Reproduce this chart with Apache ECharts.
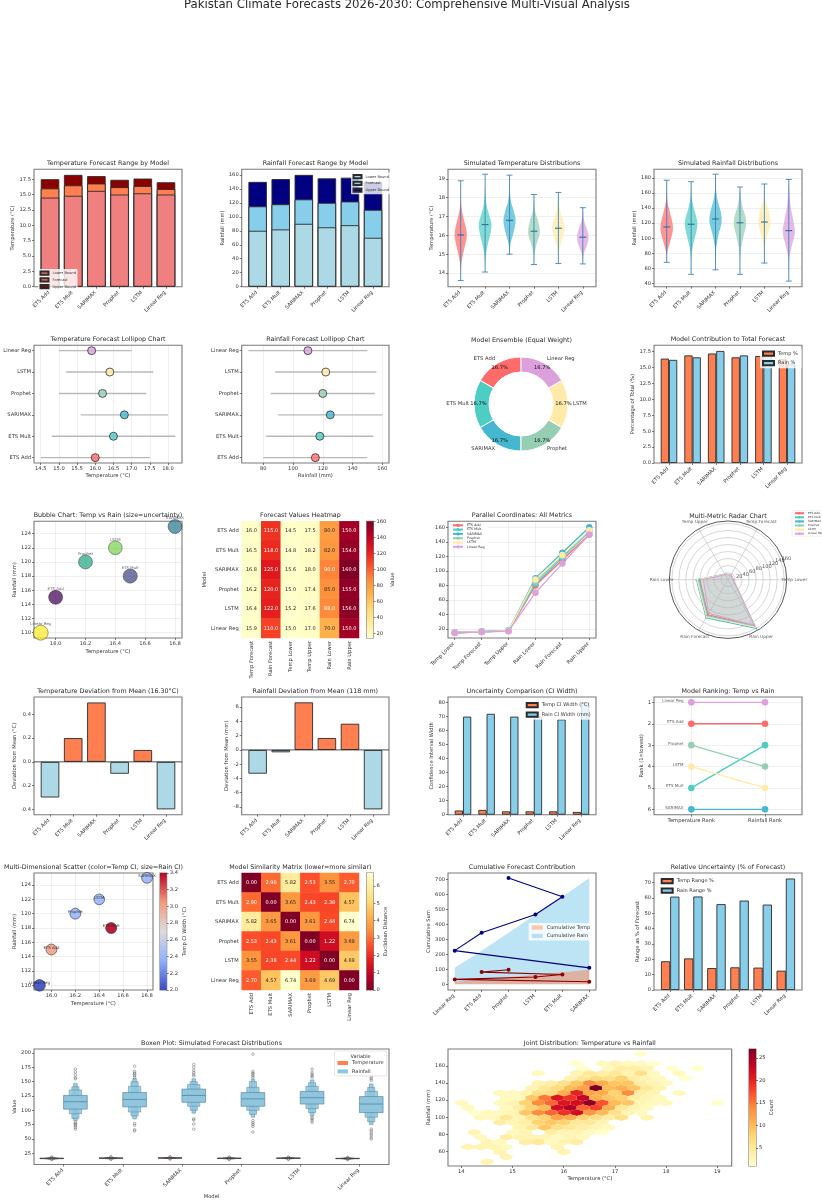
<!DOCTYPE html>
<html><head><meta charset="utf-8">
<style>html,body{margin:0;padding:0;background:#fff}#c{width:822px;height:1200px}</style>
<script src="https://cdn.jsdelivr.net/npm/echarts@6/dist/echarts.min.js"></script></head>
<body><div id="c"></div>
<script>
// ---------- data ----------
const models=['ETS Add','ETS Mult','SARIMAX','Prophet','LSTM','Linear Reg'];
const modelColors=['#FF6B6B','#4ECDC4','#45B7D1','#96CEB4','#FFEAA7','#DDA0DD'];
const tempForecast=[16.0,16.5,16.8,16.2,16.4,15.9];
const rainForecast=[115,118,125,120,122,110];
const tempLower=[14.5,14.8,15.6,15.0,15.2,15.0];
const tempUpper=[17.5,18.2,18.0,17.4,17.6,17.0];
const rainLower=[80,82,90,85,88,70];
const rainUpper=[150,154,160,155,156,150];
const metrics=['Temp Lower','Temp Forecast','Temp Upper','Rain Lower','Rain Forecast','Rain Upper'];
const heatCols=['Temp Forecast','Rain Forecast','Temp Lower','Temp Upper','Rain Lower','Rain Upper'];
const tempMin=[13.6,14.05,15.0,14.45,14.5,14.48];
const tempMax=[18.9,19.25,19.2,18.17,18.28,17.47];
const tempMean=[16.02,16.57,16.8,16.22,16.38,15.9];
const rainMin=[68,52,58,52,67,43];
const rainMax=[177,175,185,168,172,178];
const rainMean=[115,118.5,125.5,120.5,121.5,110];
const tempViolin=[
 [[13.6,0],[14.3,.05],[14.8,.25],[15.3,.6],[15.8,.95],[16.1,1],[16.5,.8],[17,.4],[17.5,.12],[18.2,.02],[18.9,0]],
 [[14.05,0],[14.8,.08],[15.4,.35],[16,.8],[16.6,1.05],[17.1,.65],[17.6,.25],[18.3,.05],[19.25,0]],
 [[15,0],[15.6,.2],[16.2,.7],[16.8,1],[17.3,.7],[17.8,.25],[18.4,.05],[19.2,0]],
 [[14.45,0],[15,.1],[15.5,.4],[16,.9],[16.3,.95],[16.8,.65],[17.3,.2],[18.17,0]],
 [[14.5,0],[15.2,.12],[15.7,.5],[16.3,1],[16.8,.8],[17.3,.3],[18.28,0]],
 [[14.48,0],[15,.15],[15.5,.7],[15.9,.95],[16.3,.7],[16.8,.2],[17.47,0]]];
const rainViolin=[
 [[68,0],[82,.12],[95,.55],[110,1],[120,.95],[135,.5],[150,.12],[177,0]],
 [[52,0],[80,.1],[95,.45],[115,1],[125,.95],[140,.45],[155,.1],[175,0]],
 [[58,0],[85,.08],[105,.5],[122,1],[135,.85],[150,.35],[165,.08],[185,0]],
 [[52,0],[80,.08],[100,.5],[118,1],[130,.85],[145,.3],[168,0]],
 [[67,0],[90,.12],[105,.55],[120,1],[135,.75],[150,.2],[172,0]],
 [[43,0],[75,.12],[90,.5],[108,1],[125,.7],[145,.25],[178,0]]];
const tempPct=[16.4,16.9,17.2,16.6,16.8,16.3];
const rainPct=[16.2,16.6,17.6,16.9,17.2,15.5];
const ensembleWeights=[1,1,1,1,1,1];
const viridisByModel=['#440154','#414487','#2a788e','#22a884','#7ad151','#fde725'];
const tempDev=[-0.3,0.2,0.5,-0.1,0.1,-0.4];
const rainDev=[-3.33,-0.33,6.67,1.67,3.67,-8.33];
const tempCI=[3.0,3.4,2.4,2.4,2.4,2.0];
const rainCI=[70,72,70,70,68,80];
const tempRank=[2,5,6,3,4,1];
const rainRank=[2,3,6,4,5,1];
const rankLabels=['Temperature Rank','Rainfall Rank'];
const similarity=[
 [0,2.90,5.82,2.53,3.55,2.70],
 [2.90,0,3.65,2.43,2.38,4.57],
 [5.82,3.65,0,3.61,2.44,6.74],
 [2.53,2.43,3.61,0,1.22,3.69],
 [3.55,2.38,2.44,1.22,0,4.69],
 [2.70,4.57,6.74,3.69,4.69,0]];
const cumOrder=['Linear Reg','ETS Add','Prophet','LSTM','ETS Mult','SARIMAX'];
const cumTempFill=[15.9,31.9,48.1,64.5,81,97.8];
const cumRainFill=[110,225,345,467,585,710];
const cumTempLine=[[5,16.8],[0,32.7],[3,49.1],[4,65.6],[1,81.6],[2,97.8]];
const cumRainLine=[[5,110],[0,225],[1,345],[3,467],[4,585],[2,710]];
const tempRangePct=[18.75,20.6,14.3,14.8,14.6,12.6];
const rainRangePct=[60.9,61,56,58.3,55.7,72.7];
const rainBoxen=[
 [[102,126],[94,135.5],[86,141],[82,147]],
 [[106,131],[97,142],[90,150],[85,155]],
 [[114,137],[107,145],[100,150],[95,155]],
 [[107,131],[100,140],[93,150],[88,154]],
 [[111,133],[103,142],[96,148],[90,153]],
 [[96,124],[88,133],[80,140],[75,146]]];
const rainMedian=[115,119,126,120,122,111];
const rainOutliers=[
 [67,70,73,75,77,79,155,157,162,167,172],
 [64,66,74,77,157,160,163,165,168,177],
 [67,76,83,85,160,163,166,170,175,180],
 [62,72,75,78,82,157,160,163,165,168,198],
 [79,82,85,87,158,160,163,166,172],
 [50,53,57,60,64,67,152,155,158]];
const tempBoxen=[
 [[15.6,16.5],[15.2,16.9],[14.9,17.2]],
 [[16.0,16.9],[15.7,17.3],[15.3,17.6]],
 [[16.4,17.2],[16.1,17.5],[15.8,17.8]],
 [[15.8,16.6],[15.5,17.0],[15.2,17.3]],
 [[16.0,16.8],[15.7,17.1],[15.4,17.4]],
 [[15.5,16.2],[15.2,16.6],[14.9,16.9]]];
const tempOutliers=[
 [14.2,14.6,17.6,18.4],[14.6,15.0,18.0,19.0],[15.2,15.5,18.2,18.8],
 [14.4,14.8,17.7,18.1],[14.6,15.0,17.8,18.2],[14.4,14.6,17.1,17.4]];
// hexbin rows: [rainfall, first temperature of the row, counts every 0.25 degC]
const hexRows=[
 [174.0,14.003,[0,0,0,0,0,0,0,0,0,0,0,0,0,0,1]],
 [162.6,14.003,[0,0,0,0,0,0,0,0,0,1,0,2,3,2,2,1]],
 [156.9,14.127,[0,0,0,0,0,0,0,0,0,1,0,2,4,4,3,0,1,0,1]],
 [151.2,14.003,[0,0,0,0,0,0,2,0,0,3,5,4,5,3,6,2,0,2]],
 [145.4,14.127,[0,0,0,0,0,0,0,0,3,5,7,6,8,4,3,2,0,1]],
 [139.7,14.003,[0,0,0,0,0,0,3,4,6,9,14,11,9,9,4,3,2]],
 [134.0,14.127,[0,0,0,0,0,3,5,7,10,12,27,10,11,9,5,3]],
 [128.3,14.003,[0,0,0,2,2,3,6,7,11,20,12,11,8,14,4,3,0,2]],
 [122.6,14.127,[0,0,0,2,2,9,15,21,19,23,11,9,8,4,3,2]],
 [116.8,14.003,[2,0,0,2,3,8,14,16,21,22,26,17,10,9,3,2,2,0,0,0,1]],
 [111.1,14.127,[2,0,0,2,4,8,10,22,24,16,18,11,5,3,2]],
 [105.4,14.003,[0,1,2,2,3,9,14,16,19,22,13,10,6,3,2]],
 [99.7,14.127,[0,2,2,5,3,6,8,12,11,8,6,4,6,0,3]],
 [94.0,14.003,[0,0,0,4,3,4,8,9,8,5,5,3]],
 [88.2,14.127,[0,0,0,0,3,5,9,6,5,4,3,2]],
 [82.5,14.003,[0,3,0,0,2,3,0,4,3,3,2,1]],
 [76.8,14.127,[0,2,0,4,3,3,3,2,3,2]],
 [71.1,14.003,[0,0,3,2,0,4,5,2,3,4]],
 [65.4,14.127,[3,3,3,2,0,0,0,3]],
 [59.6,14.003,[0,0,0,3,0,0,0,0,3]],
 [53.9,14.127,[0,0,0,3]],
 [48.2,14.003,[0,0,3]]];
// tick values
const ticksTempRange=[0,2.5,5,7.5,10,12.5,15,17.5];
const ticksRainRange=[0,20,40,60,80,100,120,140,160];
const ticksTempViolin=[14,15,16,17,18,19];
const ticksRainViolin=[40,60,80,100,120,140,160,180];
const ticksLolliTemp=[14.5,15,15.5,16,16.5,17,17.5,18];
const ticksLolliRain=[80,100,120,140,160];
const ticksIndex=[0,1,2,3,4,5];
const ticksBubbleX=[16,16.2,16.4,16.6,16.8];
const ticksBubbleY=[110,112,114,116,118,120,122,124];
const ticksParallel=[20,40,60,80,100,120,140,160];
const ticksDevT=[-0.4,-0.2,0,0.2,0.4];
const ticksDevR=[-8,-6,-4,-2,0,2,4,6];
const ticksCI=[0,10,20,30,40,50,60,70,80];
const ticksRank=[1,2,3,4,5,6];
const ticksCum=[0,100,200,300,400,500,600,700];
const ticksRel=[0,10,20,30,40,50,60,70];
const ticksBoxen=[25,50,75,100,125,150,175,200];
const ticksJointX=[14,15,16,17,18,19];
const ticksJointY=[60,80,100,120,140,160];
const ticksCbHeat=[20,40,60,80,100,120,140,160];
const ticksCbCI=[2,2.2,2.4,2.6,2.8,3,3.2,3.4];
const ticksCbSim=[0,1,2,3,4,5,6];
const ticksCbHex=[5,10,15,20,25];
const radialRings=[20,40,60,80,100,120,140,160];

// ---------- helpers ----------
const FONT='DejaVu Sans',TXT='#333',SPINE='#7a7a7a',EDGE='#2b2b2b',AF=5.2,TF=6.35,LF=5;
const CORAL='#FF7F50',SKY='#87CEEB',LBLUE='#ADD8E6';
const YLORRD=['#ffffcc','#ffeda0','#fed976','#feb24c','#fd8d3c','#fc4e2a','#e31a1c','#bd0026','#800026'];
const COOLWARM=['#3b4cc0','#8db0fe','#dddcdc','#f49a7b','#b40426'];
const opt={animation:false,backgroundColor:'#fff',textStyle:{fontFamily:FONT},title:[],legend:[],grid:[],xAxis:[],yAxis:[],series:[],visualMap:[]};
const f0=v=>String(v), f1=v=>Number(v).toFixed(1), fName=v=>models[v];
const R=(l,r,t,b)=>({l,r,t,b});
const colX=[[34,182],[241.7,389],[448,596],[654,802]];
const rowY=[[169.3,286.7],[345.3,463],[521.3,638],[697,814.7],[873,990],[1049,1166]];
const cell=(row,col)=>R(colX[col][0],colX[col][1],rowY[row][0],rowY[row][1]);
function addTitle(text,x,y,size){opt.title.push({text,left:x,top:y,padding:0,textAlign:'center',textVerticalAlign:'middle',textStyle:{fontFamily:FONT,fontSize:size||TF,fontWeight:'normal',color:'#2a2a2a'}});}
function valAxis(g,s,isX){
 return {type:'value',gridIndex:g,min:s.min,max:s.max,inverse:!!s.inverse,position:s.pos||(isX?'bottom':'left'),
  axisLine:{show:false,onZero:false},
  axisTick:{show:s.hideTick?false:true,length:2,customValues:s.ticks,lineStyle:{color:'#444',width:.7}},
  axisLabel:{show:!s.noLabel,customValues:s.ticks,formatter:s.fmt||f0,fontSize:s.font||AF,fontFamily:FONT,color:TXT,rotate:s.rotate||0,margin:s.rotate?4:3,padding:s.rotate?[0,1.5,0,0]:0},
  splitLine:{show:!!s.grid,lineStyle:{color:'rgba(0,0,0,0.09)',width:.7}},
  name:s.name||'',nameLocation:'middle',nameGap:s.gap||12,nameRotate:s.nameRotate,
  nameTextStyle:{fontSize:AF,color:TXT,fontFamily:FONT}};
}
function panel(r,title,xs,ys,tY){
 const g=opt.grid.length;
 opt.grid.push({left:r.l,top:r.t,width:r.r-r.l,height:r.b-r.t,show:true,backgroundColor:'#fff',borderColor:SPINE,borderWidth:1.1,containLabel:false});
 opt.xAxis.push(valAxis(g,xs,true));opt.yAxis.push(valAxis(g,ys,false));
 if(title)addTitle(title,(r.l+r.r)/2,tY||r.t-5.5);
 return {x:g,y:g,r,xs};
}
const modelX=(min,max)=>({min,max,ticks:ticksIndex,fmt:fName,rotate:45});
function pushS(a,s){s.xAxisIndex=a.x;s.yAxisIndex=a.y;opt.series.push(s);return opt.series.length-1;}
function bw(a,w){return (a.r.r-a.r.l)*w/(a.xs.max-a.xs.min);}
function bar(a,name,vals,color,w,gap){
 return pushS(a,{type:'bar',name,barWidth:bw(a,w),barGap:gap,data:vals.map((v,i)=>[i,v]),itemStyle:{color,borderColor:EDGE,borderWidth:.9}});
}
function addLegend(names,left,top,font,iw,ih,gap,o){
 opt.legend.push(Object.assign({data:names,left,top,orient:'vertical',selectedMode:false,itemWidth:iw,itemHeight:ih,itemGap:gap,padding:1.5,
  backgroundColor:'rgba(255,255,255,0.8)',borderRadius:1,icon:'rect',formatter:n=>n.split('#')[0],
  textStyle:{fontSize:font,color:TXT,fontFamily:FONT,padding:[0,0,0,-1]}},o||{}));
}
function colorbar(l,r,t,b,min,max,ticks,stops,name,gap,fmt){
 const a=panel(R(l,r,t,b),null,{min:0,max:1,ticks:[],noLabel:true,hideTick:true},{min,max,ticks,fmt,pos:'right',name,gap,nameRotate:90});
 pushS(a,{type:'custom',data:[[min,max]],clip:false,renderItem(p,api){
  const t=api.coord([0,api.value(1)]),bt=api.coord([1,api.value(0)]);
  const grad=stops.map((c,i)=>({offset:1-i/(stops.length-1),color:c})).reverse();
  return {type:'rect',shape:{x:t[0],y:t[1],width:bt[0]-t[0],height:bt[1]-t[1]},style:{fill:new echarts.graphic.LinearGradient(0,0,0,1,grad)}};
 }});
}
function heatmap(r,title,xLabels,yLabels,rows,colors,vmin,vmax,fmt,isWhite,yName){
 const g=opt.grid.length;
 opt.grid.push({left:r.l,top:r.t,width:r.r-r.l,height:r.b-r.t,show:false});
 const tick={alignWithLabel:true,length:2,lineStyle:{color:'#444',width:.7}};
 opt.xAxis.push({type:'category',gridIndex:g,data:xLabels,axisLine:{show:false},axisTick:tick,axisLabel:{rotate:90,fontSize:AF,color:TXT,fontFamily:FONT,margin:3,interval:0}});
 opt.yAxis.push({type:'category',gridIndex:g,data:yLabels,inverse:true,axisLine:{show:false},axisTick:tick,axisLabel:{fontSize:AF,color:TXT,fontFamily:FONT,margin:3,interval:0},
  name:yName||'',nameLocation:'middle',nameGap:33,nameTextStyle:{fontSize:AF,color:TXT,fontFamily:FONT}});
 addTitle(title,(r.l+r.r)/2,r.t-5.5);
 const data=[];rows.forEach((row,j)=>row.forEach((v,i)=>data.push({value:[i,j,v],label:{color:isWhite(v)?'#fff':'#262626'}})));
 const si=pushS({x:g,y:g},{type:'heatmap',data,label:{show:true,fontSize:5,fontFamily:FONT,formatter:p=>fmt(p.value[2])},itemStyle:{borderWidth:0}});
 opt.visualMap.push({show:false,seriesIndex:si,dimension:2,min:vmin,max:vmax,inRange:{color:colors},calculable:false});
}
function violin(a,profiles,mins,means,maxs){
 pushS(a,{type:'custom',data:models.map((m,i)=>[i,mins[i],means[i],maxs[i]]),renderItem(p,api){
  const i=api.value(0),prof=profiles[i],band=api.size([1,0])[0]*.25;
  const cx=api.coord([i,0])[0];
  const right=prof.map(d=>[cx+d[1]*band,api.coord([i,d[0]])[1]]);
  const left=prof.slice().reverse().map(d=>[cx-d[1]*band,api.coord([i,d[0]])[1]]);
  const y0=api.coord([i,api.value(1)])[1],ym=api.coord([i,api.value(2)])[1],y1=api.coord([i,api.value(3)])[1];
  const ls={stroke:'#3a7fb5',lineWidth:1,opacity:.85};
  return {type:'group',children:[
   {type:'polygon',shape:{points:right.concat(left),smooth:.35},style:{fill:modelColors[i],opacity:.72}},
   {type:'line',shape:{x1:cx,y1:y0,x2:cx,y2:y1},style:ls},
   {type:'line',shape:{x1:cx-3,y1:y0,x2:cx+3,y2:y0},style:ls},
   {type:'line',shape:{x1:cx-3,y1:y1,x2:cx+3,y2:y1},style:ls},
   {type:'line',shape:{x1:cx-3.4,y1:ym,x2:cx+3.4,y2:ym},style:{stroke:'#2d6da3',lineWidth:1.1}}]};
 }});
}
function lollipop(a,lo,mid,hi){
 pushS(a,{type:'custom',data:models.map((m,i)=>[lo[i],hi[i],i]),renderItem(p,api){
  const s=api.coord([api.value(0),api.value(2)]),e=api.coord([api.value(1),api.value(2)]);
  return {type:'line',shape:{x1:s[0],y1:s[1],x2:e[0],y2:e[1]},style:{stroke:'#b8b8b8',lineWidth:1.4}};
 }});
 pushS(a,{type:'scatter',symbolSize:8,z:5,data:models.map((m,i)=>({value:[mid[i],i],itemStyle:{color:modelColors[i],borderColor:'#222',borderWidth:.9}}))});
}
function hline(a,v){
 pushS(a,{type:'line',data:[[a.xs.min,v],[a.xs.max,v]],symbol:'none',z:6,lineStyle:{color:'#222',width:.8}});
}
function devBars(a,vals){
 pushS(a,{type:'bar',barWidth:bw(a,.8),data:vals.map((v,i)=>({value:[i,v],itemStyle:{color:v>=0?CORAL:LBLUE,borderColor:EDGE,borderWidth:.9}}))});
 hline(a,0);
}
function boxen(a,boxes,medians,outliers,offset,color,edge,halfW){
 const lvlW=[1,.52,.3,.15];
 const rows=[];boxes.forEach((lv,i)=>lv.forEach((q,k)=>rows.push([i,q[0],q[1],k])));
 rows.reverse();
 const si=pushS(a,{type:'custom',name:color===CORAL?'Temperature#21':'Rainfall#21',itemStyle:{color,borderColor:edge},data:rows,renderItem(p,api){
  const i=api.value(0),k=api.value(3),h=halfW*lvlW[k];
  const t=api.coord([i+offset-h,api.value(2)]),b=api.coord([i+offset+h,api.value(1)]);
  return {type:'rect',shape:{x:t[0],y:t[1],width:b[0]-t[0],height:b[1]-t[1]},style:{fill:color,stroke:edge,lineWidth:.7,opacity:k===0?1:.8}};
 }});
 pushS(a,{type:'custom',data:medians.map((m,i)=>[i,m]),z:3,renderItem(p,api){
  const i=api.value(0),y=api.value(1);
  const s=api.coord([i+offset-halfW,y]),e=api.coord([i+offset+halfW,y]);
  return {type:'line',shape:{x1:s[0],y1:s[1],x2:e[0],y2:e[1]},style:{stroke:edge,lineWidth:.9}};
 }});
 const pts=[];outliers.forEach((l,i)=>l.forEach(v=>pts.push([i+offset,v])));
 pushS(a,{type:'scatter',symbolSize:2.6,z:3,data:pts,itemStyle:{color:'rgba(255,255,255,0)',borderColor:'#555',borderWidth:.55}});
 return si;
}

// ---------- panels ----------
addTitle('Pakistan Climate Forecasts 2026-2030: Comprehensive Multi-Visual Analysis',407,5,11.7);

// row 1
let a=panel(cell(0,0),'Temperature Forecast Range by Model',modelX(-.69,5.69),{min:0,max:19.11,ticks:ticksTempRange,fmt:f1,name:'Temperature (°C)',gap:15.5});
bar(a,'Upper Bound#1',tempUpper,'#8B0000',.8,'-100%');bar(a,'Forecast#1',tempForecast,CORAL,.8,'-100%');bar(a,'Lower Bound#1',tempLower,'#F08080',.8,'-100%');
addLegend(['Lower Bound#1','Forecast#1','Upper Bound#1'],38,269,3.6,8,3.2,1.6);

a=panel(cell(0,1),'Rainfall Forecast Range by Model',modelX(-.69,5.69),{min:0,max:168,ticks:ticksRainRange,name:'Rainfall (mm)',gap:16});
bar(a,'Upper Bound#2',rainUpper,'#000080',.8,'-100%');bar(a,'Forecast#2',rainForecast,SKY,.8,'-100%');bar(a,'Lower Bound#2',rainLower,LBLUE,.8,'-100%');
addLegend(['Lower Bound#2','Forecast#2','Upper Bound#2'],351,172.5,3.6,8,3.2,1.6);

a=panel(cell(0,2),'Simulated Temperature Distributions',modelX(-.52,5.54),{min:13.27,max:19.51,ticks:ticksTempViolin,name:'Temperature (°C)',gap:11,grid:true});
violin(a,tempViolin,tempMin,tempMean,tempMax);
a=panel(cell(0,3),'Simulated Rainfall Distributions',modelX(-.52,5.54),{min:35.6,max:191.5,ticks:ticksRainViolin,name:'Rainfall (mm)',gap:13.5,grid:true});
violin(a,rainViolin,rainMin,rainMean,rainMax);

// row 2
a=panel(cell(1,0),'Temperature Forecast Lollipop Chart',{min:14.315,max:18.385,ticks:ticksLolliTemp,fmt:f1,name:'Temperature (°C)',gap:10.5,grid:true},{min:-.25,max:5.25,ticks:ticksIndex,fmt:fName});
lollipop(a,tempLower,tempForecast,tempUpper);
a=panel(cell(1,1),'Rainfall Forecast Lollipop Chart',{min:65.5,max:164.5,ticks:ticksLolliRain,name:'Rainfall (mm)',gap:10.5,grid:true},{min:-.25,max:5.25,ticks:ticksIndex,fmt:fName});
lollipop(a,rainLower,rainForecast,rainUpper);

addTitle('Model Ensemble (Equal Weight)',521.5,340);
const pieItems=models.map((m,i)=>({name:m,value:ensembleWeights[i],itemStyle:{color:modelColors[i],borderColor:'#fff',borderWidth:1}}));
opt.series.push({type:'pie',center:[521,404],radius:[32,47],startAngle:90,clockwise:false,data:pieItems,
 label:{position:'outside',fontSize:AF,color:TXT,fontFamily:FONT,distanceToLabelLine:0,alignTo:'none'},labelLine:{show:false,length:5,length2:0},silent:true});
opt.series.push({type:'pie',center:[521,404],radius:[32,47],startAngle:90,clockwise:false,
 data:models.map((m,i)=>({name:m,value:ensembleWeights[i],itemStyle:{color:'rgba(0,0,0,0)'}})),
 label:{position:'inside',fontSize:AF,color:'#111',fontFamily:FONT,formatter:'16.7%'},labelLine:{show:false},silent:true,z:3});

a=panel(cell(1,3),'Model Contribution to Total Forecast',modelX(-.635,5.635),{min:0,max:18.49,ticks:ticksTempRange,fmt:f1,name:'Percentage of Total (%)',gap:17});
bar(a,'Temp %#8',tempPct,CORAL,.35,'0%');bar(a,'Rain %#8',rainPct,SKY,.35,'0%');
addLegend(['Temp %#8','Rain %#8'],760,348.5,LF,11,4.2,3.4,{padding:[2,4,2,2]});

// row 3
a=panel(cell(2,0),'Bubble Chart: Temp vs Rain (size=uncertainty)',{min:15.855,max:16.847,ticks:ticksBubbleX,fmt:f1,name:'Temperature (°C)',gap:11,grid:true},{min:109.25,max:125.74,ticks:ticksBubbleY,name:'Rainfall (mm)',gap:14.5,grid:true});
pushS(a,{type:'scatter',data:models.map((m,i)=>({name:m,value:[tempForecast[i],rainForecast[i],rainCI[i]],itemStyle:{color:viridisByModel[i],opacity:.72,borderColor:'#222',borderWidth:.6}})),
 symbolSize:d=>Math.sqrt(d[2])*1.67,clip:false,label:{show:true,position:'top',distance:-1,formatter:'{b}',fontSize:3.9,color:'#222',fontFamily:FONT}});

heatmap(R(241.7,359,521.3,638),'Forecast Values Heatmap',heatCols,models,
 models.map((m,i)=>[tempForecast[i],rainForecast[i],tempLower[i],tempUpper[i],rainLower[i],rainUpper[i]]),
 YLORRD,14.6,160,f1,v=>v>=88,'Model');
colorbar(366.7,373.4,521.3,638,14.6,160,ticksCbHeat,YLORRD,'Value',12);

a=panel(cell(2,2),'Parallel Coordinates: All Metrics',{min:-.25,max:5.25,ticks:ticksIndex,fmt:v=>metrics[v],rotate:45,grid:true},{min:7.65,max:168.2,ticks:ticksParallel,grid:true});
models.forEach((m,i)=>{
 const vals=[tempLower[i],tempForecast[i],tempUpper[i],rainLower[i],rainForecast[i],rainUpper[i]];
 pushS(a,{type:'line',name:m+'#11',data:vals.map((v,k)=>[k,v]),symbol:'circle',symbolSize:6.5,showSymbol:true,lineStyle:{color:modelColors[i],width:1.3},itemStyle:{color:modelColors[i]},clip:false});
});
addLegend(models.map(m=>m+'#11'),450,522.7,3.3,10,4,1.1,{icon:undefined,padding:[1,3,1,2],textStyle:{fontSize:3.3,color:TXT,fontFamily:FONT,padding:[0,0,0,-1]}});

// polar radar
opt.polar=[{center:[728,579.7],radius:58.7}];
opt.radiusAxis=[{polarIndex:0,min:0,max:167,axisLine:{show:false},axisTick:{show:false,customValues:radialRings},axisLabel:{show:false,customValues:radialRings},splitLine:{show:true,lineStyle:{color:'#c4c4c4',width:.7}}}];
opt.angleAxis=[{polarIndex:0,min:0,max:360,interval:60,startAngle:0,clockwise:false,axisLine:{show:true,lineStyle:{color:'#444',width:.9}},axisTick:{show:false},axisLabel:{show:false},splitLine:{show:true,lineStyle:{color:'#c4c4c4',width:.7}}}];
addTitle('Multi-Metric Radar Chart',728,516);
models.forEach((m,i)=>{
 const vals=[tempLower[i],tempForecast[i],tempUpper[i],rainLower[i],rainForecast[i],rainUpper[i],tempLower[i]];
 opt.series.push({type:'line',name:m+'#12',coordinateSystem:'polar',polarIndex:0,data:vals.map((v,k)=>[v,k*60]),symbol:'circle',symbolSize:1.8,
  lineStyle:{color:modelColors[i],width:1},itemStyle:{color:modelColors[i]},areaStyle:{color:modelColors[i],opacity:.13},clip:false,z:3});
});
opt.series.push({type:'scatter',coordinateSystem:'polar',polarIndex:0,symbolSize:1,clip:false,itemStyle:{color:'rgba(0,0,0,0)'},
 data:metrics.map((m,k)=>({name:m,value:[189,k*60]})),label:{show:true,position:'inside',formatter:'{b}',fontSize:4.3,color:TXT,fontFamily:FONT}});
opt.series.push({type:'scatter',coordinateSystem:'polar',polarIndex:0,symbolSize:1,clip:false,itemStyle:{color:'rgba(0,0,0,0)'},z:4,
 data:radialRings.map(v=>({name:String(v),value:[v,22.5]})),label:{show:true,position:'right',distance:1,formatter:'{b}',fontSize:AF,color:TXT,fontFamily:FONT}});
addLegend(models.map(m=>m+'#12'),792,510.7,2.9,9,3,1.1,{icon:undefined,padding:[1,2,1,2],borderColor:'#ddd',borderWidth:.4,textStyle:{fontSize:2.9,color:TXT,fontFamily:FONT,padding:[0,0,0,-1]}});

// row 4
a=panel(cell(3,0),'Temperature Deviation from Mean (16.30°C)',modelX(-.69,5.69),{min:-.445,max:.546,ticks:ticksDevT,fmt:f1,name:'Deviation from Mean (°C)',gap:15});
devBars(a,tempDev);
a=panel(cell(3,1),'Rainfall Deviation from Mean (118 mm)',modelX(-.69,5.69),{min:-9.08,max:7.42,ticks:ticksDevR,name:'Deviation from Mean (mm)',gap:13});
devBars(a,rainDev);
a=panel(cell(3,2),'Uncertainty Comparison (CI Width)',modelX(-.635,5.635),{min:0,max:84,ticks:ticksCI,name:'Confidence Interval Width',gap:12.5});
bar(a,'Temp CI Width (°C)#15',tempCI,CORAL,.35,'0%');bar(a,'Rain CI Width (mm)#15',rainCI,SKY,.35,'0%');
addLegend(['Temp CI Width (°C)#15','Rain CI Width (mm)#15'],522.7,700,LF,11,4.2,3.4,{padding:[2,4,2,3]});

a=panel(cell(3,3),'Model Ranking: Temp vs Rain',{min:-.507,max:1.502,ticks:[0,1],fmt:v=>rankLabels[v],grid:true},{min:.75,max:6.25,inverse:true,ticks:ticksRank,name:'Rank (1=lowest)',gap:8.5,grid:true});
models.forEach((m,i)=>{
 pushS(a,{type:'line',data:[[0,tempRank[i]],[1,rainRank[i]]],symbol:'circle',symbolSize:6.6,showSymbol:true,clip:false,lineStyle:{color:modelColors[i],width:1.4},itemStyle:{color:modelColors[i]}});
});
pushS(a,{type:'scatter',symbolSize:1,itemStyle:{color:'rgba(0,0,0,0)'},clip:false,data:models.map((m,i)=>({name:m,value:[-.1,tempRank[i]]})),
 label:{show:true,position:'left',distance:0,offset:[0,-1.5],formatter:'{b}',fontSize:4,color:TXT,fontFamily:FONT}});

// row 5
a=panel(R(34,153,873,990),'Multi-Dimensional Scatter (color=Temp CI, size=Rain CI)',{min:15.854,max:16.85,ticks:ticksBubbleX,fmt:f1,name:'Temperature (°C)',gap:11,grid:true},{min:109.35,max:125.68,ticks:ticksBubbleY,name:'Rainfall (mm)',gap:14.5,grid:true});
let si=pushS(a,{type:'scatter',clip:false,data:models.map((m,i)=>({name:m,value:[tempForecast[i],rainForecast[i],tempCI[i],rainCI[i]]})),
 symbolSize:d=>Math.sqrt(d[3])*1.3,itemStyle:{borderColor:'#222',borderWidth:.6,opacity:.9},
 label:{show:true,position:'top',distance:-6,formatter:'{b}',fontSize:3.9,color:'#222',fontFamily:FONT}});
opt.visualMap.push({show:false,seriesIndex:si,dimension:2,min:2,max:3.4,inRange:{color:COOLWARM}});
colorbar(160,166.7,873,990,2,3.4,ticksCbCI,COOLWARM,'Temp CI Width (°C)',8,f1);

heatmap(R(241.7,359,873,990),'Model Similarity Matrix (lower=more similar)',models,models,similarity,YLORRD.slice().reverse(),0,6.74,v=>v.toFixed(2),v=>v<3.4);
colorbar(366.7,373.4,873,990,0,6.74,ticksCbSim,YLORRD.slice().reverse(),'Euclidean Distance',7);

a=panel(cell(4,2),'Cumulative Forecast Contribution',{min:-.25,max:5.25,ticks:ticksIndex,fmt:v=>cumOrder[v],rotate:45},{min:-38,max:744,ticks:ticksCum,name:'Cumulative Sum',gap:13});
pushS(a,{type:'line',name:'Cumulative Rain#19',data:cumRainFill.map((v,i)=>[i,v]),symbol:'none',lineStyle:{width:0},itemStyle:{color:'#b8dff0'},areaStyle:{color:SKY,opacity:.55}});
pushS(a,{type:'line',name:'Cumulative Temp#19',data:cumTempFill.map((v,i)=>[i,v]),symbol:'none',lineStyle:{width:0},itemStyle:{color:'#fbc4ab'},areaStyle:{color:CORAL,opacity:.5}});
pushS(a,{type:'line',data:cumTempLine,symbol:'circle',symbolSize:4,showSymbol:true,lineStyle:{color:'#8B0000',width:1.1},itemStyle:{color:'#8B0000'},clip:false,z:4});
pushS(a,{type:'line',data:cumRainLine,symbol:'circle',symbolSize:4,showSymbol:true,lineStyle:{color:'#000080',width:1.1},itemStyle:{color:'#000080'},clip:false,z:4});
addLegend(['Cumulative Temp#19','Cumulative Rain#19'],528.7,923,LF,11,4.2,3.4,{padding:[2,3,2,3]});

a=panel(cell(4,3),'Relative Uncertainty (% of Forecast)',modelX(-.7,5.7),{min:0,max:76.3,ticks:ticksRel,name:'Range as % of Forecast',gap:10.5});
bar(a,'Temp Range %#20',tempRangePct,CORAL,.4,'0%');bar(a,'Rain Range %#20',rainRangePct,SKY,.4,'0%');
addLegend(['Temp Range %#20','Rain Range %#20'],657.7,876,LF,11,4.2,3.4,{padding:[2,3,2,3]});

// row 6
a=panel(R(34,389,1049,1166),'Boxen Plot: Simulated Forecast Distributions',{min:-.5,max:5.5,ticks:ticksIndex,fmt:fName,rotate:45,name:'Model',gap:29.5},{min:5.4,max:207,ticks:ticksBoxen,name:'Value',gap:12.5});
boxen(a,tempBoxen,tempForecast,tempOutliers,-.2,CORAL,'#444',.2);
boxen(a,rainBoxen,rainMedian,rainOutliers,.2,'#8fc6de','#5b8ba3',.2);
addLegend(['Temperature#21','Rainfall#21'],334.5,1051,LF,10.5,4,3.4,{padding:[9.5,3,2,3],borderColor:'#ccc',borderWidth:.5,backgroundColor:'rgba(255,255,255,0.9)'});
addTitle('Variable',360.5,1056.5,LF);

a=panel(R(448,731.7,1049,1166),'Joint Distribution: Temperature vs Rainfall',{min:13.74,max:19.28,ticks:ticksJointX,name:'Temperature (°C)',gap:10.5},{min:43.3,max:179.5,ticks:ticksJointY,name:'Rainfall (mm)',gap:15});
const hexData=[];hexRows.forEach(r=>r[2].forEach((c,k)=>{if(c>0)hexData.push([r[1]+k*.25,r[0],c]);}));
si=pushS(a,{type:'custom',clip:false,data:hexData,encode:{x:0,y:1},renderItem(p,api){
 const x=api.value(0),y=api.value(1),dx=.125,h=3.81;
 const pts=[[x,y+h],[x+dx,y+h/2],[x+dx,y-h/2],[x,y-h],[x-dx,y-h/2],[x-dx,y+h/2]].map(q=>api.coord(q));
 return {type:'polygon',shape:{points:pts},style:{fill:api.visual('color'),stroke:'rgba(255,255,255,0.12)',lineWidth:.2}};
}});
opt.visualMap.push({show:false,seriesIndex:si,dimension:2,min:1,max:27,inRange:{color:YLORRD}});
colorbar(749,756,1049,1166,1,27,ticksCbHex,YLORRD,'Count',9);

const chart=echarts.init(document.getElementById('c'),null,{width:822,height:1200,renderer:'canvas'});
chart.setOption(opt);
</script></body></html>
